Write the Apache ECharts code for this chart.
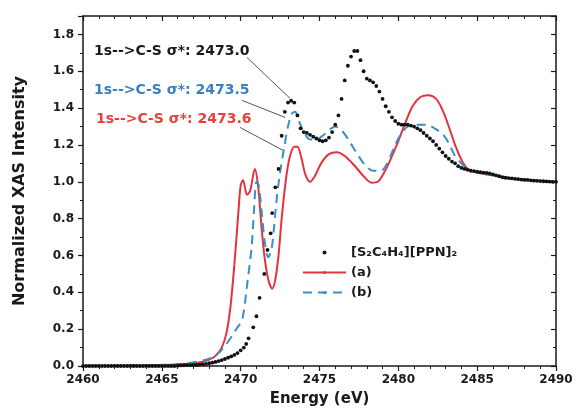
<!DOCTYPE html>
<html><head><meta charset="utf-8">
<script src="https://cdn.jsdelivr.net/npm/echarts@6/dist/echarts.min.js"></script>
<style>html,body{margin:0;padding:0;background:#fff}#c{width:576px;height:417px}</style>
</head><body><div id="c"></div>
<script>
const xTicks = [2460, 2465, 2470, 2475, 2480, 2485, 2490];
const seriesNames = ['[S\u2082C\u2084H\u2084][PPN]\u2082', '(a)', '(b)'];
const annotTexts = ['1s-->C-S \u03c3*: 2473.0', '1s-->C-S \u03c3*: 2473.5', '1s-->C-S \u03c3*: 2473.6'];

const blackData = [
[2460.0,0],[2460.2,0],[2460.4,0],[2460.6,0],[2460.8,0],[2461.0,0],[2461.2,0],[2461.4,0],[2461.6,0],[2461.8,0],
[2462.0,0],[2462.2,0],[2462.4,0],[2462.6,0],[2462.8,0],[2463.0,0],[2463.2,0],[2463.4,0],[2463.6,0],[2463.8,0],
[2464.0,0],[2464.2,0],[2464.4,0],[2464.6,0],[2464.8,0],[2465.0,0],[2465.2,0],[2465.4,0],[2465.6,0],[2465.8,0],
[2466.0,0.002],[2466.2,0.003],[2466.4,0.004],[2466.6,0.005],[2466.8,0.005],[2467.0,0.006],[2467.2,0.006],[2467.4,0.008],
[2467.6,0.01],[2467.8,0.012],[2468.0,0.015],[2468.2,0.018],[2468.4,0.022],[2468.6,0.027],[2468.8,0.032],[2469.0,0.038],
[2469.2,0.045],[2469.4,0.052],[2469.6,0.06],[2469.8,0.07],[2470.0,0.085],[2470.2,0.10],[2470.35,0.12],[2470.5,0.15],
[2470.8,0.21],[2471.0,0.27],[2471.2,0.37],[2471.5,0.50],[2471.7,0.63],[2471.9,0.72],[2472.0,0.83],[2472.2,0.97],
[2472.4,1.07],[2472.6,1.25],[2472.8,1.38],[2473.0,1.43],[2473.2,1.44],[2473.4,1.43],[2473.6,1.36],[2473.8,1.29],
[2474.0,1.27],[2474.2,1.265],[2474.4,1.255],[2474.6,1.245],[2474.8,1.235],[2475.0,1.225],[2475.2,1.22],[2475.4,1.225],
[2475.6,1.24],[2475.8,1.27],[2476.0,1.31],[2476.2,1.36],[2476.4,1.45],[2476.6,1.55],[2476.8,1.63],[2477.0,1.68],
[2477.2,1.71],[2477.4,1.71],[2477.6,1.66],[2477.8,1.60],[2478.0,1.56],[2478.2,1.55],[2478.4,1.54],[2478.6,1.52],
[2478.8,1.49],[2479.0,1.45],[2479.2,1.41],[2479.4,1.38],[2479.6,1.35],[2479.8,1.33],[2480.0,1.315],[2480.2,1.31],
[2480.4,1.31],[2480.6,1.31],[2480.8,1.305],[2481.0,1.30],[2481.2,1.29],[2481.4,1.28],[2481.6,1.265],[2481.8,1.25],
[2482.0,1.235],[2482.2,1.22],[2482.4,1.20],[2482.6,1.18],[2482.8,1.16],[2483.0,1.14],[2483.2,1.125],[2483.4,1.11],
[2483.6,1.10],[2483.8,1.085],[2484.0,1.075],[2484.2,1.07],[2484.4,1.065],[2484.6,1.06],[2484.8,1.058],[2485.0,1.055],
[2485.2,1.052],[2485.4,1.05],[2485.6,1.048],[2485.8,1.045],[2486.0,1.04],[2486.2,1.035],[2486.4,1.03],[2486.6,1.025],
[2486.8,1.022],[2487.0,1.02],[2487.2,1.018],[2487.4,1.016],[2487.6,1.014],[2487.8,1.012],[2488.0,1.01],[2488.2,1.01],
[2488.4,1.008],[2488.6,1.006],[2488.8,1.005],[2489.0,1.004],[2489.2,1.003],[2489.4,1.002],[2489.6,1.001],[2489.8,1.0],[2490.0,1.0]
];

const redData = [
[2460,0],[2462,0.002],[2464,0.004],[2466,0.008],[2467,0.015],[2467.5,0.022],[2468,0.035],[2468.4,0.055],
[2468.8,0.1],[2469.1,0.18],[2469.35,0.32],[2469.6,0.55],[2469.85,0.83],[2470.0,0.98],[2470.15,1.01],[2470.4,0.93],
[2470.6,0.95],[2470.9,1.07],[2471.1,0.98],[2471.3,0.78],[2471.5,0.6],[2471.75,0.47],[2472.0,0.42],[2472.2,0.47],
[2472.4,0.6],[2472.6,0.8],[2472.85,1.0],[2473.1,1.13],[2473.4,1.19],[2473.6,1.19],[2473.85,1.13],[2474.1,1.04],
[2474.4,1.0],[2474.7,1.03],[2475.1,1.1],[2475.6,1.15],[2476.1,1.16],[2476.6,1.14],[2477.2,1.09],[2477.8,1.03],
[2478.3,0.995],[2478.7,1.0],[2479.1,1.05],[2479.5,1.12],[2479.9,1.2],[2480.4,1.31],[2480.9,1.41],[2481.4,1.46],
[2481.9,1.47],[2482.4,1.45],[2482.8,1.39],[2483.2,1.3],[2483.6,1.2],[2484.0,1.12],[2484.4,1.07],[2485,1.05],
[2486,1.035],[2487,1.02],[2488,1.012],[2489,1.005],[2490,1.0]
];

const blueData = [
[2460,0],[2463,0.002],[2466,0.01],[2467,0.02],[2468,0.04],[2468.6,0.07],[2469.1,0.12],[2469.5,0.17],
[2469.8,0.21],[2470.1,0.25],[2470.45,0.47],[2470.7,0.65],[2470.85,0.85],[2471.0,1.0],[2471.15,0.98],[2471.35,0.82],
[2471.55,0.66],[2471.75,0.59],[2471.95,0.63],[2472.1,0.74],[2472.3,0.92],[2472.5,1.05],[2472.75,1.18],[2473.0,1.3],
[2473.25,1.37],[2473.45,1.38],[2473.7,1.33],[2474.0,1.27],[2474.4,1.23],[2474.8,1.23],[2475.2,1.25],[2475.6,1.28],
[2476.0,1.3],[2476.4,1.28],[2476.9,1.22],[2477.4,1.15],[2477.9,1.09],[2478.4,1.06],[2478.9,1.06],[2479.3,1.1],
[2479.7,1.18],[2480.1,1.25],[2480.6,1.3],[2481.2,1.31],[2481.8,1.31],[2482.3,1.29],[2482.8,1.26],[2483.2,1.21],
[2483.6,1.14],[2484.0,1.1],[2484.4,1.07],[2485,1.05],[2486,1.035],[2487,1.02],[2488,1.012],[2489,1.005],[2490,1.0]
];

// leader lines (data coordinates: start near label, end at peak)
const leaderBlack = [[2470.40, 1.675], [2473.13, 1.453]];
const leaderBlue  = [[2470.08, 1.442], [2472.81, 1.350]];
const leaderRed   = [[2469.96, 1.295], [2472.68, 1.171]];

const chart = echarts.init(document.getElementById('c'), null, {renderer: 'canvas'});
const FONT = 'DejaVu Sans';
const axisCommon = {
  type: 'value',
  axisLine: {show: true, onZero: false, lineStyle: {color: '#1a1a1a', width: 1.5}},
  splitLine: {show: false}
};
const option = {
  animation: false,
  backgroundColor: '#fff',
  grid: {left: 83, right: 20, top: 16, bottom: 51, containLabel: false},
  xAxis: [
    Object.assign({}, axisCommon, {
      min: 2460, max: 2490, interval: 5, position: 'bottom',
      name: 'Energy (eV)', nameLocation: 'middle', nameGap: 26,
      nameTextStyle: {fontFamily: FONT, fontWeight: 'bold', fontSize: 15, color: '#1a1a1a'},
      axisTick: {show: true, inside: false, length: 5, lineStyle: {color: '#1a1a1a', width: 1.2}},
      minorTick: {show: true, splitNumber: 5, length: 3, lineStyle: {color: '#1a1a1a', width: 1}},
      axisLabel: {show: true, margin: 8, fontFamily: FONT, fontWeight: 'bold', fontSize: 12, color: '#1a1a1a',
        formatter: v => String(v)}
    }),
    Object.assign({}, axisCommon, {
      min: 2460, max: 2490, interval: 5, position: 'top',
      axisTick: {show: true, inside: true, length: 5, lineStyle: {color: '#1a1a1a', width: 1.2}},
      minorTick: {show: true, splitNumber: 5, length: 3, lineStyle: {color: '#1a1a1a', width: 1}},
      axisLabel: {show: false}
    })
  ],
  yAxis: [
    Object.assign({}, axisCommon, {
      min: 0, max: 1.9, interval: 0.2, position: 'left',
      name: 'Normalized XAS Intensity', nameLocation: 'middle', nameGap: 55,
      nameTextStyle: {fontFamily: FONT, fontWeight: 'bold', fontSize: 16, color: '#1a1a1a'},
      axisTick: {show: true, inside: false, length: 5, lineStyle: {color: '#1a1a1a', width: 1.2}},
      minorTick: {show: true, splitNumber: 2, length: 3, lineStyle: {color: '#1a1a1a', width: 1}},
      axisLabel: {show: true, margin: 9, showMaxLabel: false, fontFamily: FONT, fontWeight: 'bold', fontSize: 12, color: '#1a1a1a',
        formatter: v => v.toFixed(1)}
    }),
    Object.assign({}, axisCommon, {
      min: 0, max: 1.9, interval: 0.2, position: 'right',
      axisTick: {show: true, inside: true, length: 5, lineStyle: {color: '#1a1a1a', width: 1.2}},
      minorTick: {show: true, splitNumber: 2, length: 3, lineStyle: {color: '#1a1a1a', width: 1}},
      axisLabel: {show: false}
    })
  ],
  legend: {
    orient: 'vertical', left: 297, top: 241, itemWidth: 43, itemHeight: 4, itemGap: 7,
    textStyle: {fontFamily: FONT, fontWeight: 'bold', fontSize: 13, color: '#1a1a1a'},
    data: seriesNames
  },
  series: [
    {
      name: seriesNames[1], type: 'line', data: redData, smooth: 0.3, symbol: 'none', showSymbol: false, z: 2,
      lineStyle: {color: '#e5323f', width: 2}, itemStyle: {color: '#e5323f'}
    },
    {
      name: seriesNames[2], type: 'line', data: blueData, smooth: 0.3, symbol: 'none', showSymbol: false, z: 3,
      lineStyle: {color: '#3a8fc4', width: 2, type: [9, 6]}, itemStyle: {color: '#3a8fc4'}
    },
    {
      name: seriesNames[0], type: 'scatter', data: blackData, symbol: 'circle', symbolSize: 3.8, z: 4,
      itemStyle: {color: '#111', opacity: 1},
      markLine: {
        silent: true, symbol: ['none', 'none'], animation: false,
        label: {show: false},
        lineStyle: {color: '#555', width: 1, type: 'solid'},
        data: [
          [{coord: leaderBlack[0]}, {coord: leaderBlack[1]}],
          [{coord: leaderBlue[0]}, {coord: leaderBlue[1]}],
          [{coord: leaderRed[0]}, {coord: leaderRed[1]}]
        ]
      }
    }
  ],
  graphic: [
    {type: 'text', left: 94, top: 44, style: {text: annotTexts[0], font: 'bold 14px "DejaVu Sans"', fill: '#1a1a1a'}},
    {type: 'text', left: 94, top: 83, style: {text: annotTexts[1], font: 'bold 14px "DejaVu Sans"', fill: '#3a7fc0'}},
    {type: 'text', left: 96, top: 112, style: {text: annotTexts[2], font: 'bold 14px "DejaVu Sans"', fill: '#e8403a'}}
  ]
};
chart.setOption(option);
</script>
</body></html>
